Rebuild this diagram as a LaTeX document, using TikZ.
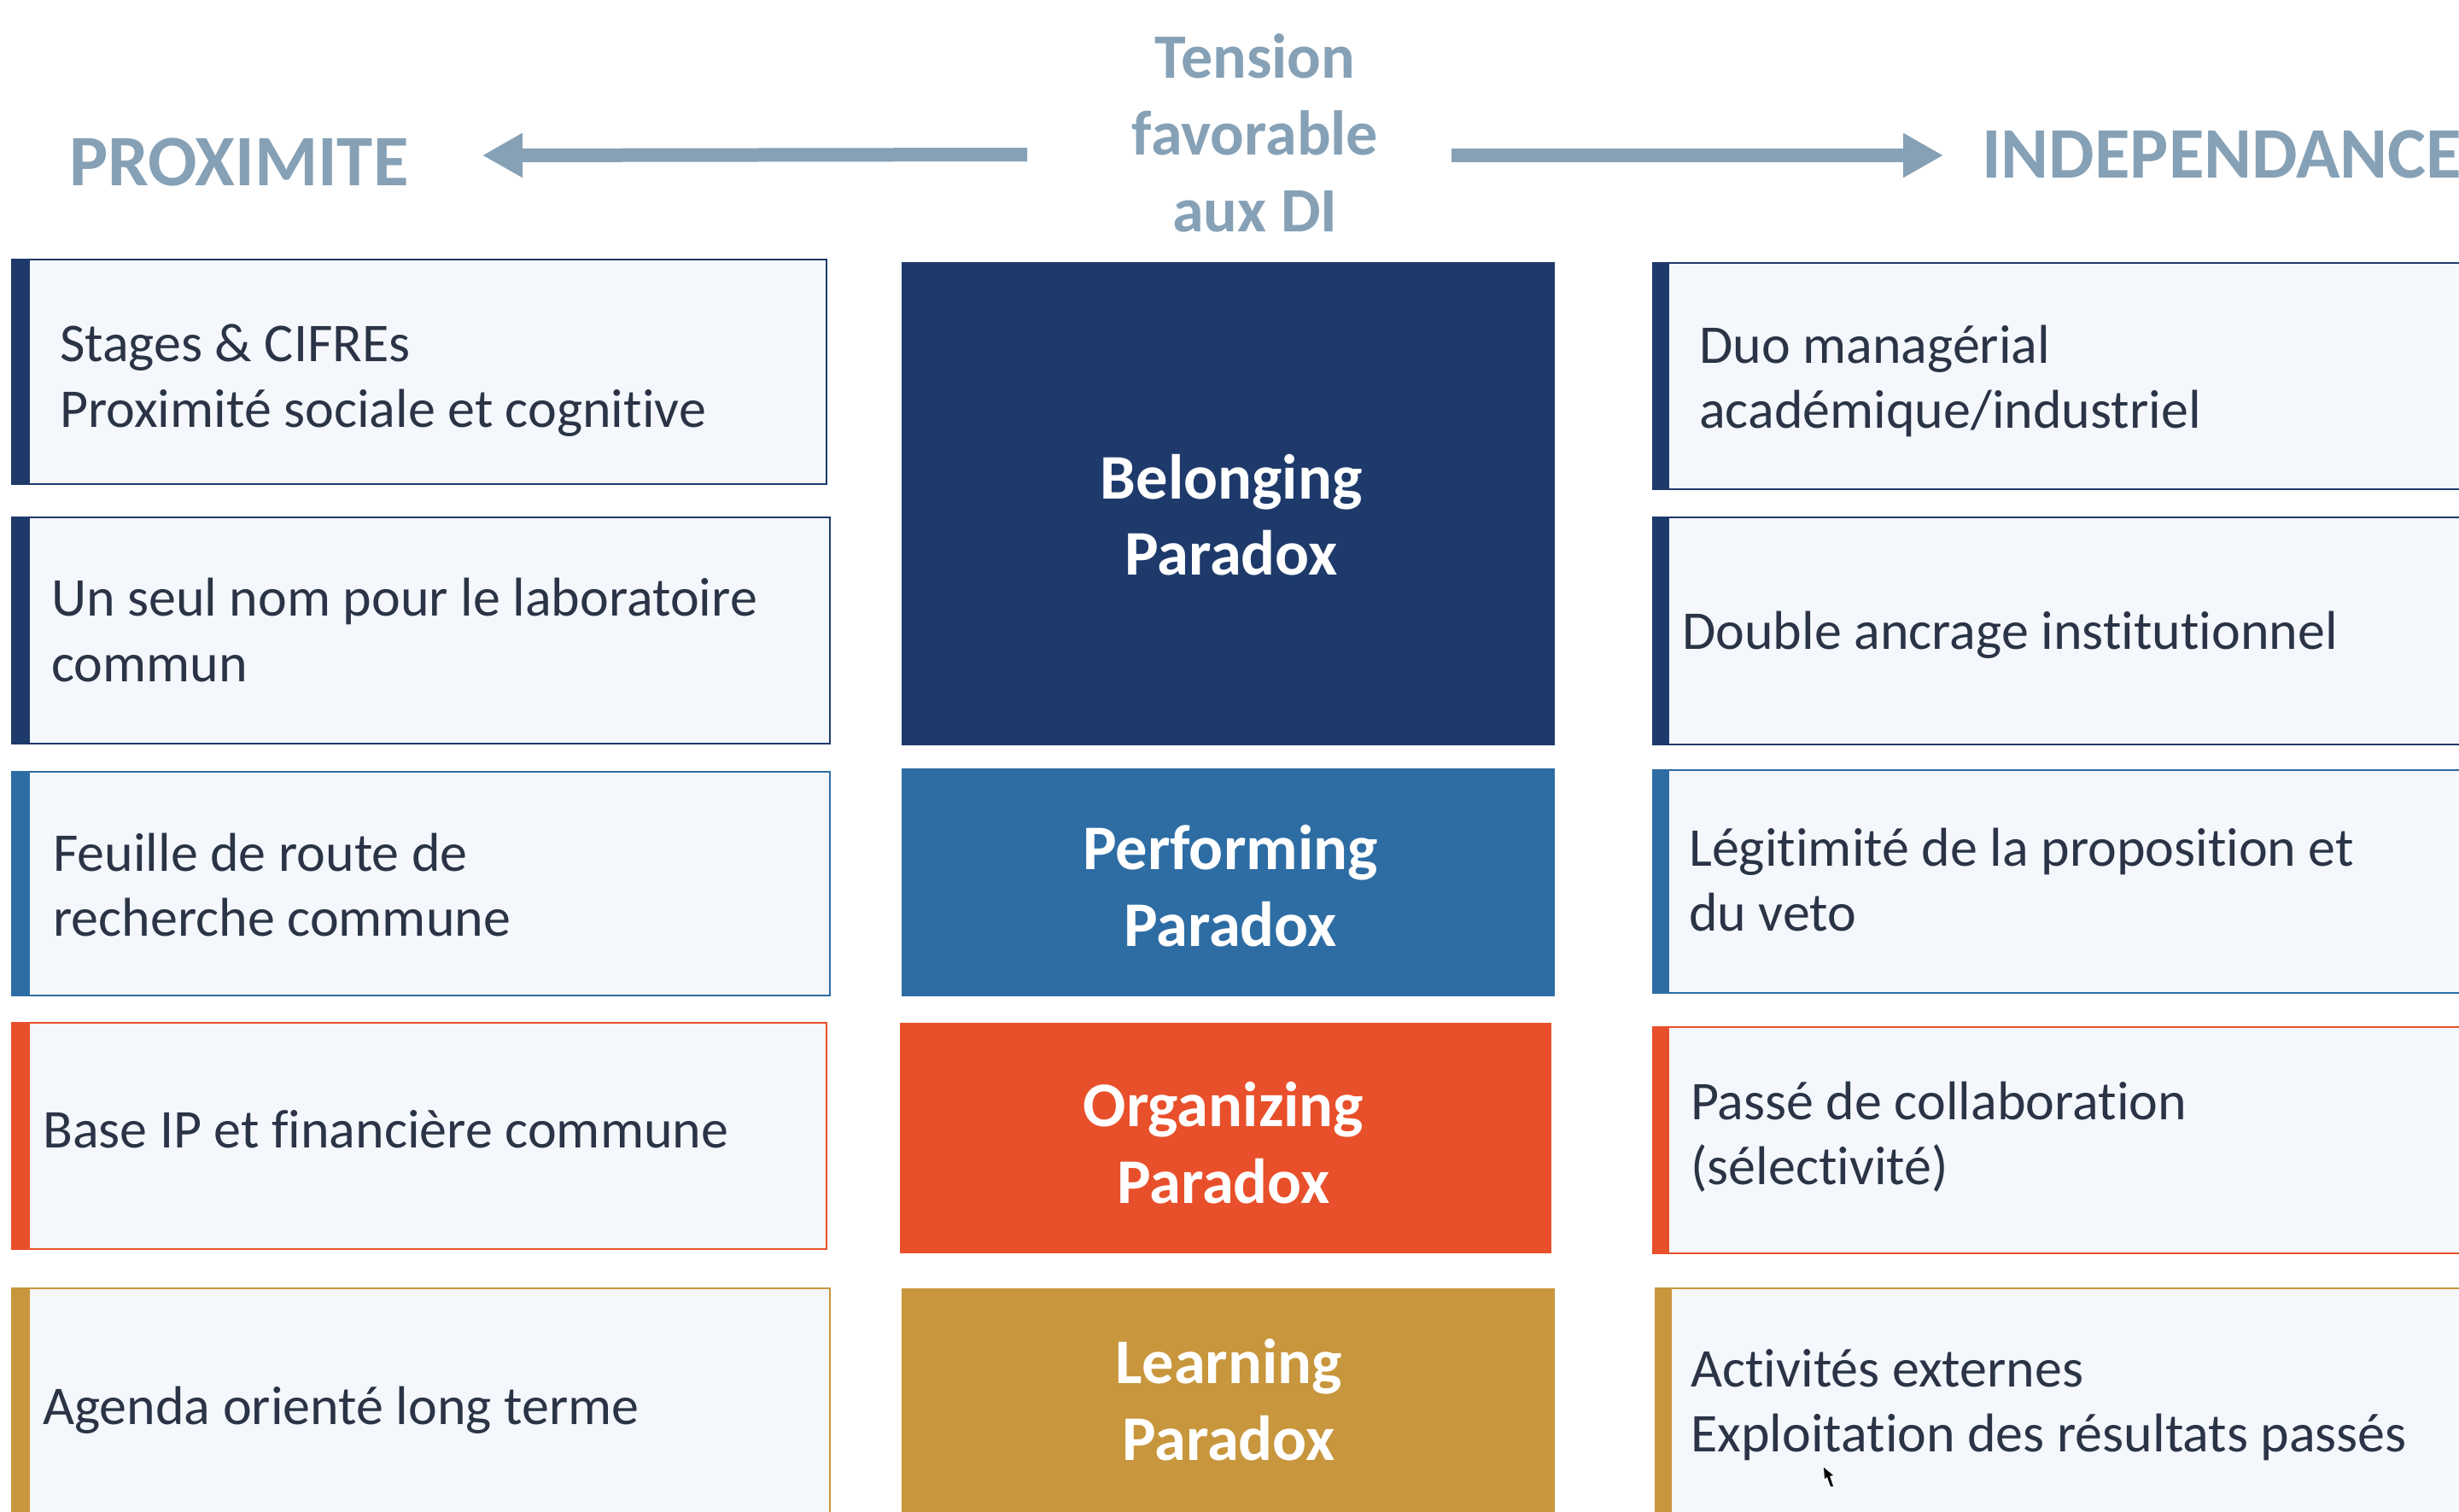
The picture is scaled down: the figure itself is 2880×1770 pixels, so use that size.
\documentclass[tikz,border=0pt]{standalone}
\usepackage{fontspec}
\setmainfont{Carlito}[Ligatures=NoCommon]
\usetikzlibrary{arrows.meta}
\definecolor{navy}{HTML}{1E3A6B}
\definecolor{pblue}{HTML}{2E6DA4}
\definecolor{orng}{HTML}{E8502B}
\definecolor{gold}{HTML}{C8963C}
\definecolor{boxfill}{HTML}{F4F7FC}
\definecolor{hdrc}{HTML}{86A1B6}
\definecolor{txt}{HTML}{2B3446}
\tikzset{
  body/.style={anchor=base west, inner sep=0pt, text=txt, font=\fontsize{64}{76}\selectfont},
  ctr/.style={anchor=base, inner sep=0pt, text=white, font=\bfseries\fontsize{74.5}{90}\selectfont},
  hdr/.style={anchor=base, inner sep=0pt, text=hdrc, font=\bfseries\fontsize{74}{90}\selectfont},
  side/.style={anchor=base, inner sep=0pt, text=hdrc, font=\bfseries\fontsize{85}{100}\selectfont},
  card/.style={fill=boxfill, draw=#1, line width=2.5pt},
  bar/.style={fill=#1},
  bigarrow/.style={draw=hdrc, line width=16pt, -{Triangle[length=47pt,width=49pt]}},
}
\begin{document}
\begin{tikzpicture}[x=1pt,y=-1pt]
\useasboundingbox (0,0) rectangle (2880,1770);
\fill[white] (0,0) rectangle (2880,1770);

% header
\node[side] (prox) at (280,217) {PROXIMITE};
\node[side, anchor=base west] (indep) at (2321,208) {INDEPENDANCE};
\node[hdr] (t1) at (1470,91) {Tension};
\node[hdr] (t2) at (1470,181) {favorable};
\node[hdr] (t3) at (1470,271) {aux DI};
\coordinate (la) at (1203,181);
\coordinate (lb) at (565,182);
\coordinate (ra) at (1700,182);
\coordinate (rb) at (2276,182);
\draw[bigarrow] (la) -- (lb);
\draw[bigarrow] (ra) -- (rb);

% left column
\path[card=navy] (14,304) rectangle (968,567);
\path[bar=navy] (14,303) rectangle (35,568);
\path[card=navy] (14,606) rectangle (972,871);
\path[bar=navy] (14,605) rectangle (35,872);
\path[card=pblue] (14,904) rectangle (972,1166);
\path[bar=pblue] (14,903) rectangle (35,1167);
\path[card=orng] (14,1198) rectangle (968,1463);
\path[bar=orng] (14,1197) rectangle (35,1464);
\path[card=gold] (14,1509) rectangle (972,1800);
\path[bar=gold] (14,1508) rectangle (35,1800);

% center column
\fill[navy] (1056,307) rectangle (1821,873);
\fill[pblue] (1056,900) rectangle (1821,1167);
\fill[orng] (1054,1198) rectangle (1817,1468);
\fill[gold] (1056,1509) rectangle (1821,1800);

% right column
\path[card=navy] (1936,308) rectangle (2920,573);
\path[bar=navy] (1936,307) rectangle (1955,574);
\path[card=navy] (1936,606) rectangle (2920,872);
\path[bar=navy] (1936,605) rectangle (1955,873);
\path[card=pblue] (1936,902) rectangle (2920,1163);
\path[bar=pblue] (1936,901) rectangle (1955,1164);
\path[card=orng] (1936,1203) rectangle (2920,1468);
\path[bar=orng] (1936,1202) rectangle (1955,1469);
\path[card=gold] (1939,1509) rectangle (2920,1800);
\path[bar=gold] (1939,1508) rectangle (1958,1800);

% left texts
\node[body] (l1a) at (70,423) {Stages \& CIFREs};
\node[body] (l1b) at (70,500) {Proximité sociale et cognitive};
\node[body] (l2a) at (60,721) {Un seul nom pour le laboratoire};
\node[body] (l2b) at (60,798) {commun};
\node[body] (l3a) at (62,1020) {Feuille de route de};
\node[body] (l3b) at (62,1096) {recherche commune};
\node[body] (l4a) at (50,1344) {Base IP et financière commune};
\node[body] (l5a) at (50,1668) {Agenda orienté long terme};

% center texts
\node[ctr] (c1a) at (1442,584) {Belonging};
\node[ctr] (c1b) at (1442,673) {Paradox};
\node[ctr] (c2a) at (1441,1018) {Performing};
\node[ctr] (c2b) at (1441,1108) {Paradox};
\node[ctr] (c3a) at (1433,1319) {Organizing};
\node[ctr] (c3b) at (1433,1409) {Paradox};
\node[ctr] (c4a) at (1439,1620) {Learning};
\node[ctr] (c4b) at (1439,1710) {Paradox};

% right texts
\node[body] (r1a) at (1990,425) {Duo managérial};
\node[body] (r1b) at (1990,501) {académique/industriel};
\node[body] (r2a) at (1970,760) {Double ancrage institutionnel};
\node[body] (r3a) at (1978,1014) {Légitimité de la proposition et};
\node[body] (r3b) at (1978,1090) {du veto};
\node[body] (r4a) at (1980,1311) {Passé de collaboration};
\node[body] (r4b) at (1980,1387) {(sélectivité)};
\node[body] (r5a) at (1980,1624) {Activités externes};
\node[body] (r5b) at (1980,1700) {Exploitation des résultats passés};

% cursor mark
\fill[black] (2136,1719) -- (2147,1728) -- (2143,1729) -- (2147,1741) -- (2144,1741) -- (2140,1730) -- (2137,1732) -- cycle;
\end{tikzpicture}
\end{document}
